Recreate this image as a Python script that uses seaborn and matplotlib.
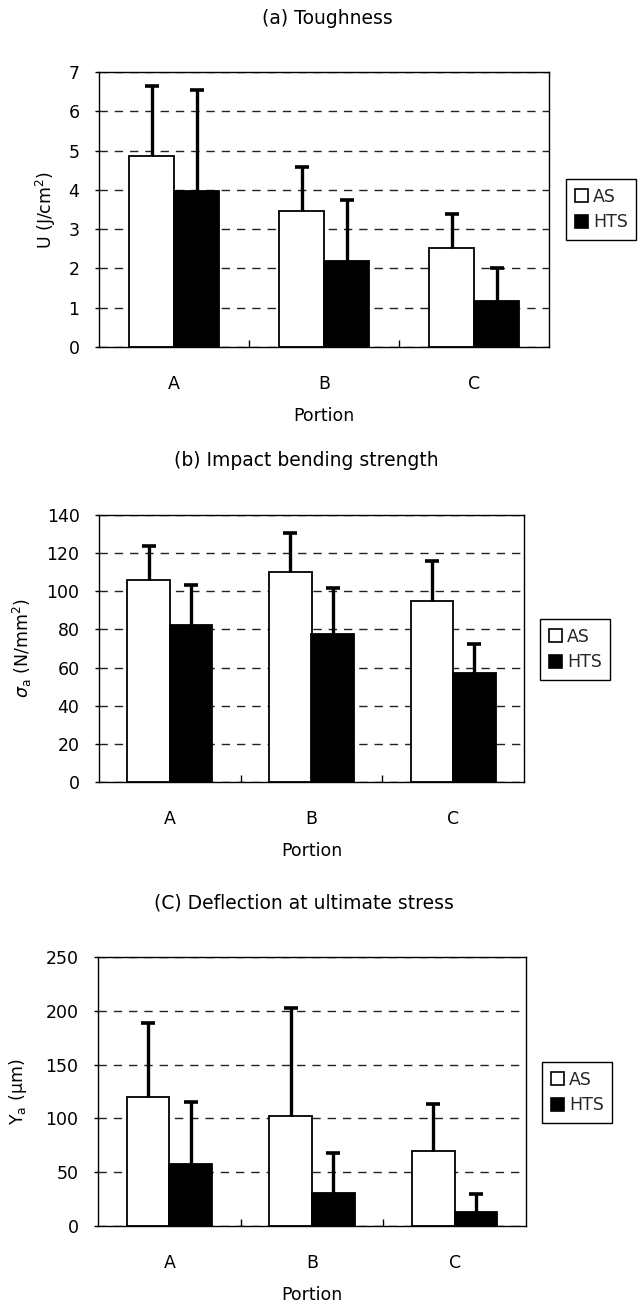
import matplotlib
matplotlib.use("Agg")
import matplotlib.pyplot as plt
import seaborn as sns
import pandas as pd
import numpy as np
from matplotlib.patches import Patch
from matplotlib.ticker import FixedLocator, MultipleLocator

# ---------------- data ----------------
portions = ["A", "B", "C"]
groups = ["AS", "HTS"]

# (a) Toughness U (J/cm2)
tough_as = [4.85, 3.47, 2.52]
tough_hts = [3.97, 2.18, 1.18]
tough_as_sd = [1.80, 1.11, 0.86]
tough_hts_sd = [2.58, 1.55, 0.83]

# (b) Impact bending strength sigma_a (N/mm2)
bend_as = [106.0, 110.0, 95.0]
bend_hts = [82.5, 77.5, 57.0]
bend_as_sd = [17.5, 20.5, 21.0]
bend_hts_sd = [21.0, 24.0, 15.5]

# (c) Deflection at ultimate stress Ya (um)
defl_as = [120.0, 102.5, 69.5]
defl_hts = [57.5, 30.5, 13.0]
defl_as_sd = [69.0, 100.5, 44.0]
defl_hts_sd = [58.0, 37.5, 16.5]

titles = ["(a) Toughness", "(b) Impact bending strength", "(C) Deflection at ultimate stress"]
ylabels = ["U (J/cm$^2$)", r"$\sigma_{\rm a}$ (N/mm$^2$)", r"Y$_{\rm a}$ (μm)"]
xlabel = "Portion"

# ---------------- style ----------------
sns.set_theme(style="white")
plt.rcParams["font.family"] = ["DejaVu Sans"]
plt.rcParams["mathtext.fontset"] = "dejavusans"
FS = 12.5

W, H = 640, 1305
fig = plt.figure(figsize=(W / 100, H / 100), dpi=100)


def px_axes(l, r, t, b):
    return fig.add_axes([l / W, 1 - b / H, (r - l) / W, (b - t) / H])


def panel(ax, m_as, m_hts, sd_as, sd_hts, ymax, ystep, ylabel, ylab_x, leg_box, title, title_xy):
    df = pd.DataFrame({
        "Portion": portions * 2,
        "Group": ["AS"] * len(portions) + ["HTS"] * len(portions),
        "value": list(m_as) + list(m_hts),
    })
    sns.barplot(data=df, x="Portion", y="value", hue="Group", order=portions,
                hue_order=groups, palette={"AS": "white", "HTS": "black"},
                edgecolor="black", linewidth=1.3, width=0.6, errorbar=None,
                saturation=1, legend=False, ax=ax, zorder=2)
    for cont, sds in zip(ax.containers, [sd_as, sd_hts]):
        xs = [p.get_x() + p.get_width() / 2 for p in cont]
        hs = [p.get_height() for p in cont]
        eb = ax.errorbar(xs, hs, yerr=[np.zeros(len(sds)), sds], fmt="none",
                         ecolor="black", elinewidth=2.4, capsize=5, capthick=2.6,
                         zorder=3)
        caps = eb.lines[1]
        if len(caps) >= 2:
            caps[0].set_visible(False)
    ax.set_ylim(0, ymax)
    ax.set_xlim(-0.5, len(portions) - 0.5)
    ax.yaxis.set_major_locator(MultipleLocator(ystep))
    ax.set_axisbelow(True)
    ax.yaxis.grid(True, color="#222222", linestyle=(0, (6, 5)), linewidth=1.0)
    ax.xaxis.grid(False)
    for s in ax.spines.values():
        s.set_visible(True)
        s.set_color("black")
        s.set_linewidth(1.0)
    ax.xaxis.set_minor_locator(FixedLocator([0.5, 1.5]))
    ax.tick_params(axis="x", which="major", length=0, pad=20, labelsize=FS, colors="black")
    ax.tick_params(axis="x", which="minor", direction="in", length=5, width=1, color="black",
                   bottom=True)
    ax.tick_params(axis="y", which="major", direction="out", length=3, width=1, pad=11,
                   labelsize=FS, colors="black", left=True)
    ax.set_xlabel(xlabel, fontsize=FS, color="black")
    ax.xaxis.set_label_coords(0.5, -60 / ax.bbox.height)
    ax.set_ylabel(ylabel, fontsize=FS, color="black")
    ax.yaxis.set_label_coords(ylab_x, 0.5)
    fig.text(title_xy[0] / W, 1 - title_xy[1] / H, title, ha="center", va="center",
             fontsize=13.5, color="black")
    handles = [Patch(facecolor="white", edgecolor="black", linewidth=1.2, label="AS"),
               Patch(facecolor="black", edgecolor="black", linewidth=1.2, label="HTS")]
    leg = fig.legend(handles=handles, loc="upper left",
                     bbox_to_anchor=(leg_box[0] / W, 1 - leg_box[1] / H),
                     frameon=True, fancybox=False, edgecolor="black", framealpha=1,
                     handlelength=0.75, handleheight=0.75, handletextpad=0.3,
                     borderpad=0.5, labelspacing=0.45, fontsize=FS, borderaxespad=0)
    leg.get_frame().set_linewidth(1.0)


ax1 = px_axes(99, 549, 72, 347)
panel(ax1, tough_as, tough_hts, tough_as_sd, tough_hts_sd, 7, 1, ylabels[0],
      (58 - 99) / 450, (566, 179), titles[0], (327, 19))

ax2 = px_axes(99, 524, 515, 782)
panel(ax2, bend_as, bend_hts, bend_as_sd, bend_hts_sd, 140, 20, ylabels[1],
      (34 - 99) / 425, (540, 619), titles[1], (306, 460))

ax3 = px_axes(98, 526, 957, 1226)
panel(ax3, defl_as, defl_hts, defl_as_sd, defl_hts_sd, 250, 50, ylabels[2],
      (29 - 98) / 428, (542, 1062), titles[2], (304, 903))

fig.savefig("out.png", dpi=100)
